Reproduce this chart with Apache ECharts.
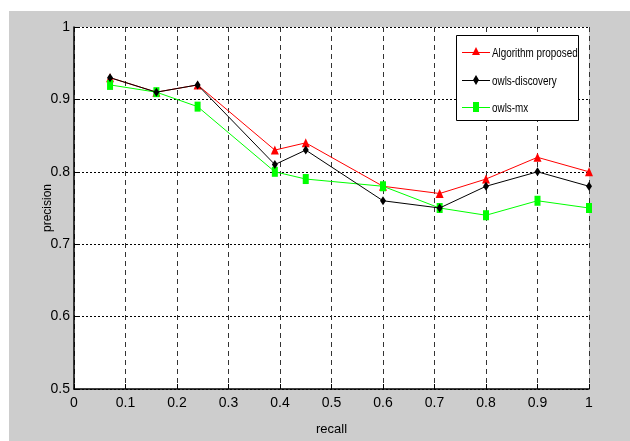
<!DOCTYPE html>
<html>
<head>
<meta charset="utf-8">
<style>
  html, body { margin: 0; padding: 0; background: #ffffff; }
  #chart { width: 630px; height: 441px; }
</style>
<script src="https://cdn.jsdelivr.net/npm/echarts@6/dist/echarts.min.js"></script>
</head>
<body>
<div id="chart"></div>
<script>
// Recall positions shared by all three curves
const recall = [0.07, 0.16, 0.24, 0.39, 0.45, 0.60, 0.71, 0.80, 0.90, 1.00];

// Precision values per method
const algorithmProposed = [0.93, 0.91, 0.92, 0.83, 0.84, 0.78, 0.77, 0.79, 0.82, 0.80];
const owlsDiscovery     = [0.93, 0.91, 0.92, 0.81, 0.83, 0.76, 0.75, 0.78, 0.80, 0.78];
const owlsMx            = [0.92, 0.91, 0.89, 0.80, 0.79, 0.78, 0.75, 0.74, 0.76, 0.75];

const seriesNames = ['Algorithm proposed', 'owls-discovery', 'owls-mx'];
const seriesColors = ['#ff0000', '#000000', '#00ff00'];

const FONT = "'Liberation Sans', Arial, sans-serif";

const pairs = ys => recall.map((x, i) => [x, ys[i]]);
const fmt = v => String(+v.toFixed(1));

// Boxed legend in the upper right corner, with narrow text
function legendGraphics() {
  const bx = 456, by = 35, bw = 122, bh = 85;
  const rowY = [52, 80, 107];
  const lx0 = 462, lx1 = 490, mx = 476;
  const els = [{
    type: 'rect', z: 100,
    shape: { x: bx + 0.5, y: by + 0.5, width: bw, height: bh },
    style: { fill: '#ffffff', stroke: '#000000', lineWidth: 1 }
  }];
  const markers = [
    y => ({ type: 'polygon', shape: { points: [[mx, y - 5], [mx + 4, y + 3], [mx - 4, y + 3]] } }),
    y => ({ type: 'polygon', shape: { points: [[mx, y - 5], [mx + 3, y], [mx, y + 5], [mx - 3, y]] } }),
    y => ({ type: 'rect', shape: { x: mx - 3, y: y - 5, width: 6, height: 10 } })
  ];
  seriesNames.forEach((name, i) => {
    const y = rowY[i];
    els.push({
      type: 'line', z: 101,
      shape: { x1: lx0, y1: y + 0.5, x2: lx1, y2: y + 0.5 },
      style: { stroke: seriesColors[i], lineWidth: 1 }
    });
    const m = markers[i](y);
    m.z = 102;
    m.style = { fill: seriesColors[i] };
    els.push(m);
    els.push({
      type: 'text', z: 102,
      x: 492, y: y + 1, scaleX: 0.76,
      style: {
        text: name, font: '13px ' + FONT, fill: '#000000',
        verticalAlign: 'middle', align: 'left'
      }
    });
  });
  return els;
}

const chart = echarts.init(document.getElementById('chart'), null, { renderer: 'canvas' });

chart.setOption({
  animation: false,
  backgroundColor: '#ffffff',
  graphic: [{
    type: 'rect',
    z: -10,
    silent: true,
    shape: { x: 9, y: 11, width: 630, height: 441 },
    style: { fill: '#cdcdcd' }
  }].concat(legendGraphics()),
  grid: {
    left: 74, right: 41, top: 27, bottom: 41,
    show: true, backgroundColor: '#ffffff', borderWidth: 0
  },
  xAxis: {
    type: 'value',
    min: 0, max: 1, interval: 0.1,
    name: 'recall',
    nameLocation: 'middle',
    nameGap: 34,
    nameMoveOverlap: false,
    nameTextStyle: { fontFamily: FONT, fontSize: 13, color: '#000' },
    axisLine: { show: true, onZero: false, lineStyle: { color: '#000', width: 1.5 } },
    axisTick: { show: true, inside: true, length: 5, lineStyle: { color: '#000' } },
    axisLabel: { fontFamily: FONT, fontSize: 14, color: '#000', margin: 7, formatter: fmt },
    splitLine: { show: true, lineStyle: { color: '#333', type: [5, 4], width: 1 } }
  },
  yAxis: {
    type: 'value',
    min: 0.5, max: 1, interval: 0.1,
    name: 'precision',
    nameLocation: 'middle',
    nameGap: 20,
    nameMoveOverlap: false,
    nameTextStyle: { fontFamily: FONT, fontSize: 12, color: '#000' },
    axisLine: { show: true, onZero: false, lineStyle: { color: '#000', width: 1.5 } },
    axisTick: { show: true, inside: true, length: 5, lineStyle: { color: '#000' } },
    axisLabel: { fontFamily: FONT, fontSize: 14, color: '#000', margin: 4, formatter: fmt },
    splitLine: { show: true, lineStyle: { color: '#000', type: [2, 2], width: 1 } }
  },
  series: [
    {
      name: seriesNames[0], type: 'line', z: 2,
      data: pairs(algorithmProposed),
      symbol: 'triangle', symbolSize: [8, 9],
      lineStyle: { color: seriesColors[0], width: 1 },
      itemStyle: { color: seriesColors[0] }
    },
    {
      name: seriesNames[1], type: 'line', z: 4,
      data: pairs(owlsDiscovery),
      symbol: 'diamond', symbolSize: [6, 9],
      lineStyle: { color: seriesColors[1], width: 1 },
      itemStyle: { color: seriesColors[1] }
    },
    {
      name: seriesNames[2], type: 'line', z: 3,
      data: pairs(owlsMx),
      symbol: 'rect', symbolSize: [6, 10],
      lineStyle: { color: seriesColors[2], width: 1 },
      itemStyle: { color: seriesColors[2] }
    }
  ]
});
</script>
</body>
</html>
